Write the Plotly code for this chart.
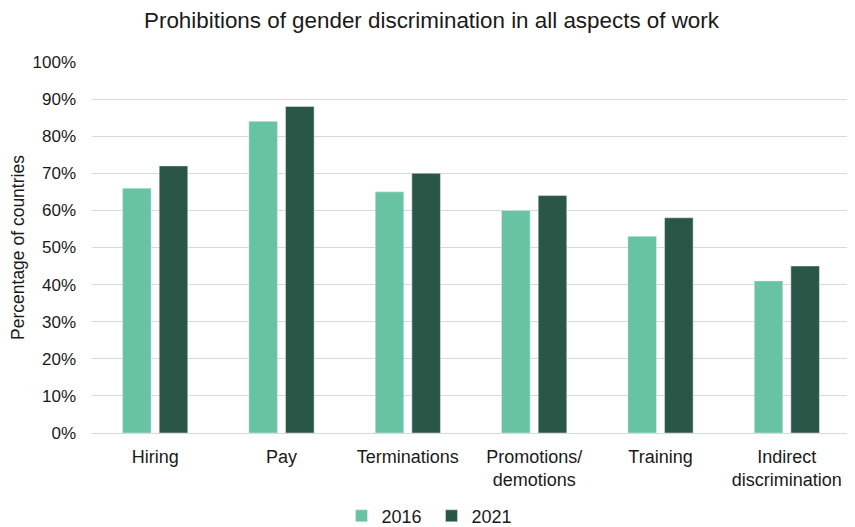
import plotly.graph_objects as go

categories = ["Hiring", "Pay", "Terminations", "Promotions/<br>demotions", "Training", "Indirect<br>discrimination"]
values_2016 = [66, 84, 65, 60, 53, 41]
values_2021 = [72, 88, 70, 64, 58, 45]
y_ticks = [0, 10, 20, 30, 40, 50, 60, 70, 80, 90, 100]
y_tick_labels = [f"{v}%" for v in y_ticks]

fig = go.Figure()
fig.add_trace(go.Bar(name="2016", x=categories, y=values_2016, marker_color="#68C3A3"))
fig.add_trace(go.Bar(name="2021", x=categories, y=values_2021, marker_color="#2A5647"))

font = "Liberation Sans, Arial, sans-serif"
fig.update_layout(
    width=847, height=519,
    margin=dict(l=84, r=5, t=54, b=94, autoexpand=False),
    paper_bgcolor="white", plot_bgcolor="white",
    barmode="group", bargap=0.42, bargroupgap=0.22,
    font=dict(family=font, size=18, color="#1a1a1a"),
    title=dict(text="Prohibitions of gender discrimination in all aspects of work",
               x=0.5, xanchor="center", y=0.977, yanchor="middle",
               font=dict(family=font, size=22.4, color="#1a1a1a")),
    legend=dict(orientation="h", xref="container", x=0.5, xanchor="center",
                y=-0.224, yanchor="middle",
                font=dict(size=18), itemwidth=30, traceorder="normal", tracegroupgap=0,
                entrywidth=45, entrywidthmode="pixels"),
    xaxis=dict(showline=True, linecolor="#d9d9d9", linewidth=1, ticks="",
               tickfont=dict(size=18), automargin=False, ticklabelstandoff=7),
    yaxis=dict(range=[0, 100], tickvals=y_ticks, ticktext=y_tick_labels,
               showgrid=True, gridcolor="#d9d9d9", gridwidth=1, zeroline=False,
               automargin=False, ticklabelstandoff=15,
               title=dict(text="Percentage of countries", font=dict(size=17.5), standoff=8),
               tickfont=dict(size=17), ticks=""),
)
fig.write_html("out.html")
